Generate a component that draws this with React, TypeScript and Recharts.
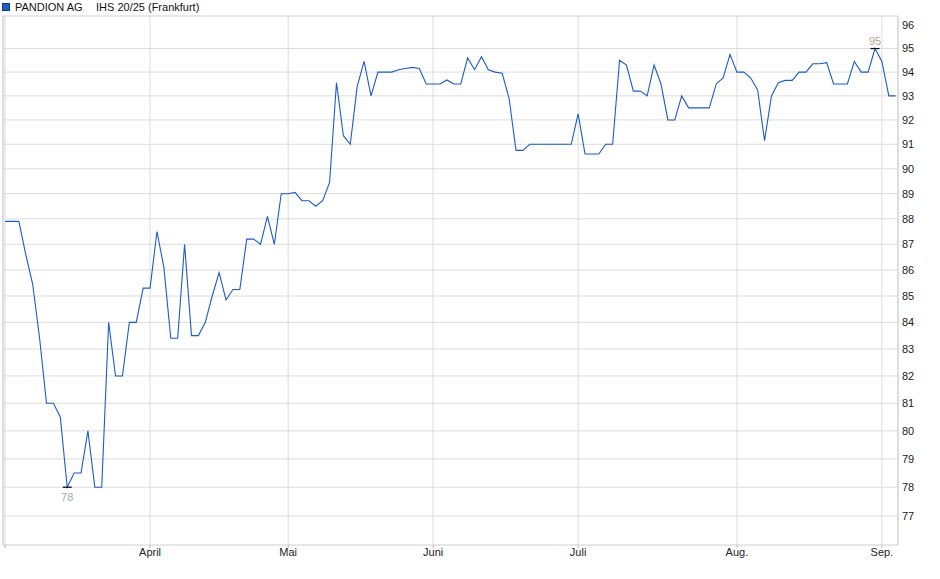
import React from 'react';
import { LineChart, Line, XAxis, YAxis, CartesianGrid, ReferenceLine, ReferenceDot } from 'recharts';

// daily closing prices (Frankfurt), one array per month
const march = [87.9, 87.9, 87.9, 86.6, 85.45, 83.4, 81.0, 81.0, 80.5, 78.0, 78.5, 78.5, 80.0, 78.0, 78.0, 84.0, 82.0, 82.0, 84.0, 84.0, 85.3];
const april = [85.3, 87.5, 86.1, 83.4, 83.4, 87.0, 83.5, 83.5, 84.0, 85.0, 85.9, 84.85, 85.25, 85.25, 87.2, 87.2, 87.0, 88.1, 87.0, 89.0];
const may = [89.0, 89.05, 88.72, 88.72, 88.5, 88.72, 89.45, 93.55, 91.35, 91.0, 93.4, 94.45, 93.0, 94.0, 94.0, 94.0, 94.1, 94.15, 94.2, 94.15, 93.5];
const june = [93.5, 93.5, 93.67, 93.5, 93.5, 94.6, 94.1, 94.65, 94.1, 94.0, 93.95, 92.9, 90.75, 90.75, 91.0, 91.0, 91.0, 91.0, 91.0, 91.0, 91.0];
const july = [92.25, 90.6, 90.6, 90.6, 91.0, 91.0, 94.5, 94.3, 93.2, 93.2, 93.0, 94.3, 93.5, 92.0, 92.0, 93.0, 92.5, 92.5, 92.5, 92.5, 93.5, 93.75, 94.75];
const august = [94.0, 94.0, 93.75, 93.25, 91.15, 93.0, 93.55, 93.65, 93.65, 94.0, 94.0, 94.35, 94.35, 94.4, 93.5, 93.5, 93.5, 94.45, 94.0, 94.0, 95.0];
const september = [94.45, 93.0, 93.0];

const monthLabels = ['', 'April', 'Mai', 'Juni', 'Juli', 'Aug.', 'Sep.'];
const yTicks = [77, 78, 79, 80, 81, 82, 83, 84, 85, 86, 87, 88, 89, 90, 91, 92, 93, 94, 95, 96];

const months = [march, april, may, june, july, august, september];
const prices = months.flat();
const monthStarts = months.map((_, k) => months.slice(0, k).reduce((s, m) => s + m.length, 0));
const data = prices.map((v, i) => ({ i, v }));

const minVal = Math.min(...prices);
const maxVal = Math.max(...prices);
const minIdx = prices.indexOf(minVal);
const maxIdx = prices.indexOf(maxVal);

const xDomain = [-0.3, prices.length - 1 + 0.33];
const yDomain = [76, 96.4];

const Mark = ({ cx, cy, label, above, color }: any) => (
  <g>
    <line x1={cx - 4.5} x2={cx + 4.5} y1={cy} y2={cy} stroke="#000" strokeWidth={1.2} />
    <text x={cx} y={above ? cy - 4 : cy + 14} textAnchor="middle" fontSize={11} fill={color}>
      {label}
    </text>
  </g>
);

export default function App() {
  return (
    <div style={{ position: 'relative', width: 940, height: 579, fontFamily: '"Liberation Sans", Arial, sans-serif' }}>
      <style>{'body{margin:0}'}</style>
      <div style={{ position: 'absolute', left: 0, top: 0, fontSize: 11, lineHeight: '14px', color: '#111', whiteSpace: 'nowrap' }}>
        <span style={{ position: 'absolute', left: 2, top: 3, width: 6, height: 6, background: '#1f5fc4', border: '1px solid #113a80' }} />
        <span style={{ position: 'absolute', left: 15, top: 0 }}>PANDION AG</span>
        <span style={{ position: 'absolute', left: 96, top: 0 }}>IHS 20/25 (Frankfurt)</span>
      </div>
      <LineChart width={940} height={579} data={data} margin={{ top: 16, right: 0, bottom: 0, left: 3 }}>
        <CartesianGrid stroke="#dcdcdc" horizontalValues={yTicks.filter((t) => t < 96)} />
        <XAxis
          dataKey="i"
          type="number"
          domain={xDomain}
          allowDataOverflow
          ticks={monthStarts}
          interval={0}
          tickFormatter={(v) => monthLabels[monthStarts.indexOf(v)]}
          height={34}
          tickSize={3}
          tickMargin={0}
          tickLine={{ stroke: '#bbb' }}
          axisLine={{ stroke: '#cfcfcf' }}
          tick={{ fontSize: 11, fill: '#222' }}
        />
        <YAxis
          orientation="right"
          type="number"
          scale="log"
          domain={yDomain}
          allowDataOverflow
          ticks={yTicks}
          interval={0}
          width={42}
          tickSize={0}
          tickMargin={4}
          tickLine={false}
          axisLine={{ stroke: '#cfcfcf' }}
          tick={{ fontSize: 11, fill: '#222' }}
        />
        <ReferenceLine x={xDomain[0]} stroke="#cfcfcf" />
        <ReferenceLine y={yDomain[1]} stroke="#cfcfcf" />
        <Line
          type="linear"
          dataKey="v"
          stroke="#1a5cc8"
          strokeWidth={1.1}
          dot={false}
          isAnimationActive={false}
        />
        <ReferenceDot
          x={minIdx}
          y={minVal}
          r={0}
          shape={(p: any) => <Mark cx={p.cx} cy={p.cy} label={String(minVal)} above={false} color="#a3a9b0" />}
        />
        <ReferenceDot
          x={maxIdx}
          y={maxVal}
          r={0}
          shape={(p: any) => <Mark cx={p.cx} cy={p.cy} label={String(maxVal)} above color="#b7a590" />}
        />
      </LineChart>
    </div>
  );
}
